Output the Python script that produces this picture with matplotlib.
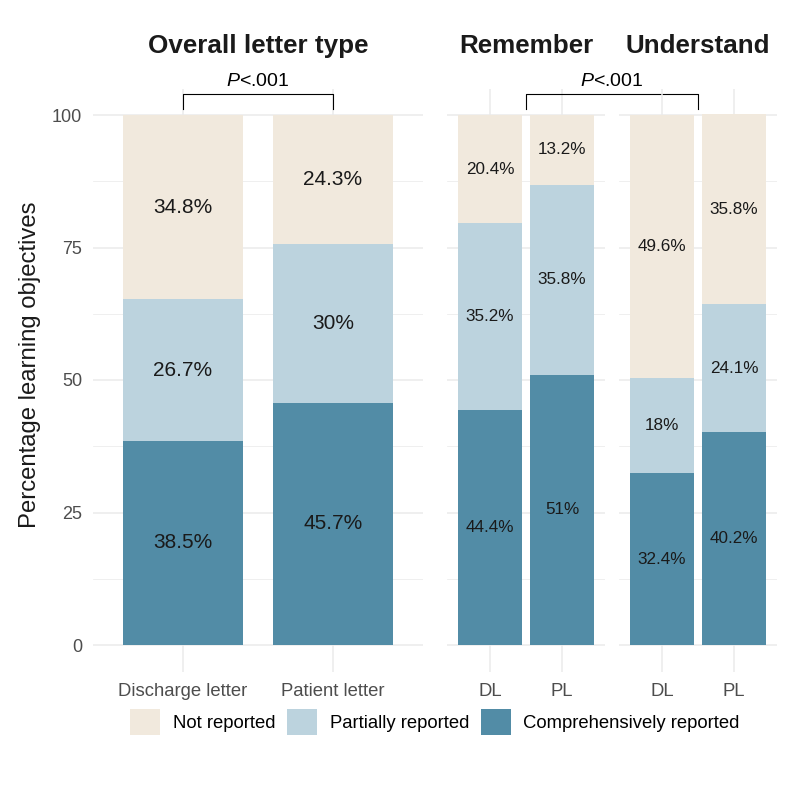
import matplotlib
matplotlib.use("Agg")
import matplotlib.pyplot as plt
from matplotlib.patches import Patch

plt.rcParams['font.family'] = ['Liberation Sans', 'DejaVu Sans']
plt.rcParams['mathtext.fontset'] = 'custom'
plt.rcParams['mathtext.rm'] = 'Liberation Sans'
plt.rcParams['mathtext.it'] = 'Liberation Sans:italic'

# ---- data ----
levels = ['Not reported', 'Partially reported', 'Comprehensively reported']
overall_cats = ['Discharge letter', 'Patient letter']
overall_comp = [38.5, 45.7]
overall_part = [26.7, 30]
overall_not = [34.8, 24.3]

sub_cats = ['DL', 'PL']
remember_comp = [44.4, 51]
remember_part = [35.2, 35.8]
remember_not = [20.4, 13.2]

understand_comp = [32.4, 40.2]
understand_part = [18, 24.1]
understand_not = [49.6, 35.8]

panel_titles = ['Overall letter type', 'Remember', 'Understand']
y_ticks = [0, 25, 50, 75, 100]
sig_label = r'$\it{P}$<.001'

colors = {'Not reported': '#F1E9DD', 'Partially reported': '#BCD3DE',
          'Comprehensively reported': '#528CA6'}

W = H = 800
fig = plt.figure(figsize=(8, 8), dpi=100)

def px_axes(x0, x1, top=88.5, bottom=671.5):
    ax = fig.add_axes([x0 / W, 1 - bottom / H, (x1 - x0) / W, (bottom - top) / H])
    ax.set_facecolor('none')
    return ax

ax1 = px_axes(92.5, 423)
ax2 = px_axes(447, 605)
ax3 = px_axes(619, 777)

grid_c = '#EBEBEB'

def draw_panel(ax, cats, comp, part, notr, width, fs, show_y):
    x = list(range(len(cats)))
    ax.set_xlim(-0.6, len(cats) - 0.4)
    ax.set_ylim(-5, 105)
    for s in ax.spines.values():
        s.set_visible(False)
    ax.set_yticks(y_ticks)
    ax.set_yticks([12.5, 37.5, 62.5, 87.5], minor=True)
    ax.set_xticks(x)
    ax.set_xticklabels(cats, fontsize=13.3, color='#4D4D4D')
    ax.tick_params(axis='both', which='both', length=0)
    ax.tick_params(axis='x', pad=8)
    ax.tick_params(axis='y', pad=7.5, labelsize=13, labelcolor='#4D4D4D')
    if not show_y:
        ax.set_yticklabels([])
    ax.grid(True, which='major', color=grid_c, lw=1.1)
    ax.grid(True, which='minor', axis='y', color=grid_c, lw=0.55)
    ax.set_axisbelow(True)
    bottoms = [0] * len(cats)
    for vals, lev in [(comp, levels[2]), (part, levels[1]), (notr, levels[0])]:
        ax.bar(x, vals, width=width, bottom=bottoms, color=colors[lev], lw=0)
        for xi, b, v in zip(x, bottoms, vals):
            ax.text(xi, b + v / 2, f'{v:g}%', ha='center', va='center',
                    fontsize=fs, color='#1A1A1A')
        bottoms = [b + v for b, v in zip(bottoms, vals)]

draw_panel(ax1, overall_cats, overall_comp, overall_part, overall_not, 0.8, 15, True)
draw_panel(ax2, sub_cats, remember_comp, remember_part, remember_not, 0.9, 12.3, False)
draw_panel(ax3, sub_cats, understand_comp, understand_part, understand_not, 0.9, 12.3, False)

# panel titles
for ax, t in zip([ax1, ax2, ax3], panel_titles):
    bb = ax.get_position()
    fig.text((bb.x0 + bb.x1) / 2, 1 - 46 / H, t, ha='center', va='center',
             fontsize=18.7, fontweight='bold', color='#1A1A1A')

# significance bracket on left panel
yb_top, yb_bot, yt = 104.0, 101.2, 106.3
ax1.plot([0, 0, 1, 1], [yb_bot, yb_top, yb_top, yb_bot], color='black', lw=0.8, clip_on=False)
ax1.text(0.5, yt, sig_label, ha='center', va='center', fontsize=14, clip_on=False)

# bracket spanning Remember / Understand panels
xr_disp = ax3.transData.transform((0.5, 0))[0]
xr = ax2.transData.inverted().transform((xr_disp, 0))[0]
ax2.plot([0.5, 0.5, xr, xr], [yb_bot, yb_top, yb_top, yb_bot], color='black', lw=0.8,
         clip_on=False, zorder=5)
ax2.text((0.5 + xr) / 2, yt, sig_label, ha='center', va='center', fontsize=14, clip_on=False)

# y label
fig.text(30 / W, 1 - 365 / H, 'Percentage learning objectives', rotation=90,
         ha='center', va='center', fontsize=17.2, color='#1A1A1A')

# legend
handles = [Patch(facecolor=colors[l], edgecolor='none', label=l) for l in levels]
fig.legend(handles=handles, loc='center', bbox_to_anchor=(435 / W, 1 - 722 / H), ncol=3,
           frameon=False, fontsize=13.3, handlelength=1.6, handleheight=1.75,
           handletextpad=0.7, columnspacing=0.65)

fig.savefig('out.png', dpi=100, facecolor='white')
